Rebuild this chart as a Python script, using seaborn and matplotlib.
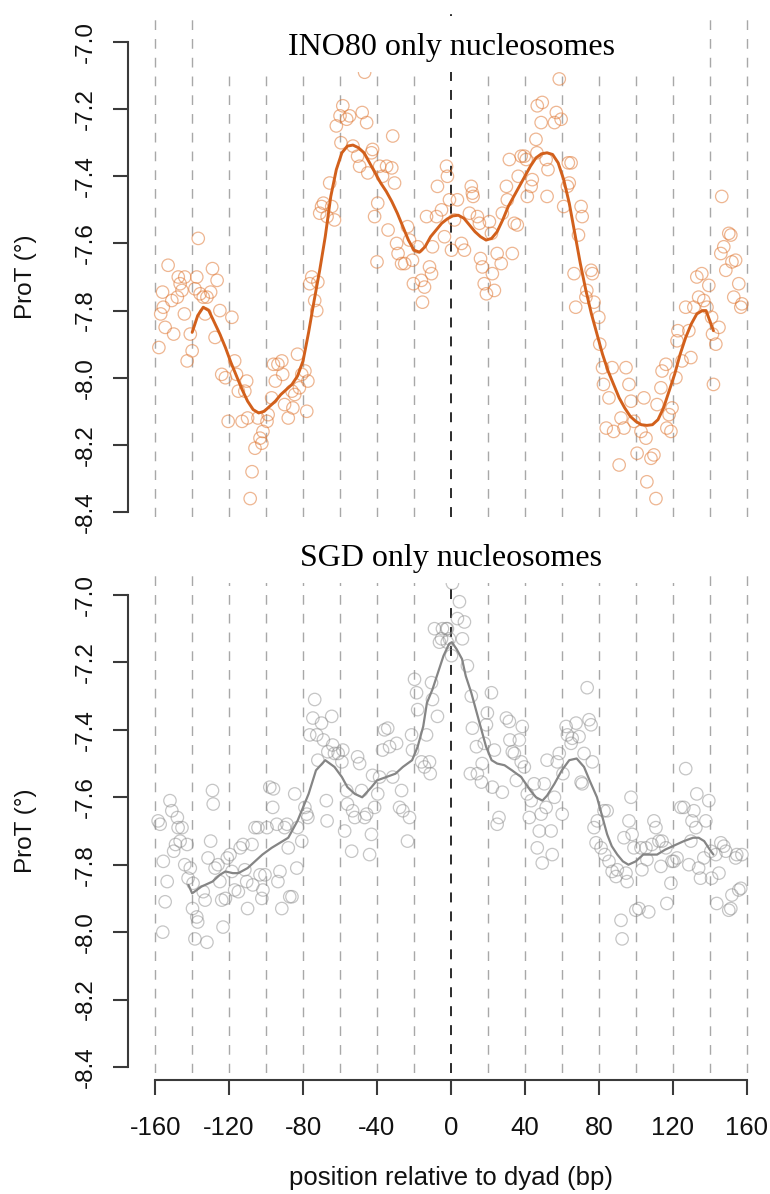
import matplotlib
matplotlib.use("Agg")
import matplotlib.pyplot as plt
from matplotlib.patches import Rectangle
import seaborn as sns
import pandas as pd

# ---------------- data ----------------
ino80_pos = [
    -158, -156, -155.6, -157, -154.6, -153, -150, -151, -148, -147.5, -146.5, -145.5, -144, -144.2,
    -142.7, -141, -140, -138.5, -137.5, -136.7, -135.7, -134, -132, -133, -130, -129, -127.6, -126.5,
    -125, -124, -122, -120.5, -118.5, -117, -116, -115, -113, -111.5, -110.5, -110, -107.6, -108.6,
    -106, -104.4, -103.3, -101.7, -102.3, -99.5, -98.9, -97, -95, -96, -93.6, -91.5, -91, -90, -88,
    -86, -85.5, -84.5, -83, -82, -80.7, -79, -78, -77.4, -76.4, -75.3, -73.7, -72.6, -72, -71, -70,
    -67, -64.5, -63, -69, -65.6, -62, -60, -58.5, -56.4, -54.8, -53, -59.5, -48, -46.7, -45.6, -49.4,
    -45, -42.4, -43, -38.6, -37, -34.8, -31.5, -30.5, -39.6, -40, -50.5, -41.3, -34, -32, -29.4,
    -28.6, -26.7, -25, -23.5, -22.4, -20.8, -20.3, -18, -16, -15.4, -14.3, -13.2, -11.6, -10.5, -10,
    -7.8, -7.3, -5.1, -3.5, -2.4, -1.9, -0.8, 0.3, 1.9, 3.5, 5.7, 7.3, 10, 11, 11.6, 12, 14.3, 15.4,
    16, 17, 18, 19.2, 20.8, 21.9, 22.4, 23.5, 25, 27.2, 27.8, 30, 30.5, 31.6, 33.2, 34.3, 35.9, 36.4,
    38, 39.7, 40.7, 41.3, 43.4, 44, 46, 46.5, 46.7, 48.8, 49.4, 51.5, 52, 52.5, 56, 57, 58.6, 59.6,
    61, 63, 63.5, 65, 64, 70.4, 71, 69, 66.6, 67.5, 73, 73.5, 75.8, 76.5, 77.4, 80, 80.5, 82, 82.5,
    84, 85.5, 87.2, 88, 91, 92, 93.6, 94.7, 96.3, 97.4, 99, 100.7, 102.8, 104.4, 105.5, 106, 108.2,
    109.8, 110.9, 111.5, 113.6, 114.2, 116.3, 116.8, 118, 119, 119.6, 121.7, 122.3, 122.8, 125, 127,
    128.7, 129.8, 131.4, 133, 134, 135.7, 136.8, 138.5, 139.5, 141, 141.5, 143.3, 145, 142, 146.5,
    146, 147.6, 148.7, 150.3, 151.4, 152, 154, 155.7, 153, 156.8, 157.4,
]
ino80_val = [
    -7.91, -7.745, -7.79, -7.81, -7.85, -7.665, -7.87, -7.77, -7.76, -7.70, -7.72, -7.74, -7.70, -7.81,
    -7.95, -7.87, -7.92, -7.735, -7.70, -7.585, -7.75, -7.76, -7.76, -7.81, -7.745, -7.675, -7.88, -7.71,
    -7.80, -7.99, -8.00, -8.13, -7.82, -7.95, -7.99, -8.04, -8.13, -8.04, -8.01, -8.12, -8.28, -8.36,
    -8.21, -8.12, -8.18, -8.16, -8.195, -8.13, -8.11, -8.06, -8.01, -7.96, -7.96, -7.95, -7.99, -8.08, -8.12,
    -8.04, -8.09, -8.05, -7.93, -8.03, -7.99, -7.98, -8.10, -8.01, -7.72, -7.70, -7.77, -7.80, -7.715, -7.51, -7.49,
    -7.52, -7.49, -7.53, -7.48, -7.42, -7.25, -7.22, -7.19, -7.23, -7.22, -7.31, -7.30, -7.21, -7.09, -7.24, -7.37,
    -7.39, -7.32, -7.33, -7.37, -7.40, -7.37, -7.28, -7.42, -7.48, -7.655, -7.34, -7.52, -7.56, -7.375, -7.60,
    -7.63, -7.66, -7.66, -7.55, -7.59, -7.65, -7.72, -7.61, -7.71, -7.775, -7.73, -7.52, -7.67, -7.69, -7.61,
    -7.52, -7.43, -7.50, -7.58, -7.37, -7.40, -7.47, -7.62, -7.53, -7.47, -7.60, -7.62, -7.51, -7.43, -7.45, -7.46, -7.52, -7.54,
    -7.645, -7.67, -7.72, -7.75, -7.535, -7.57, -7.69, -7.74, -7.63, -7.66, -7.51, -7.43, -7.47, -7.35, -7.63, -7.54, -7.545, -7.40,
    -7.34, -7.34, -7.35, -7.46, -7.43, -7.41, -7.29, -7.33, -7.19, -7.24, -7.18, -7.35, -7.46, -7.38, -7.24, -7.21, -7.11, -7.23,
    -7.49, -7.43, -7.36, -7.36, -7.42, -7.49, -7.52, -7.575, -7.69, -7.79, -7.76, -7.74, -7.68, -7.69, -7.775, -7.82, -7.90, -7.97, -8.02,
    -8.15, -8.06, -7.97, -8.16, -8.26, -8.12, -8.15, -7.97, -8.02, -8.07, -8.13, -8.225, -8.16, -8.06, -8.18, -8.31, -8.24,
    -8.23, -8.36, -8.08, -8.03, -7.98, -7.96, -8.15, -8.11, -8.16, -8.09, -8.00, -7.89, -7.86, -7.95, -7.79,
    -7.86, -7.94, -7.79, -7.70, -7.76, -7.69, -7.77, -7.79, -7.725, -7.82, -7.87, -7.90, -7.85, -8.02, -7.46,
    -7.63, -7.61, -7.68, -7.57, -7.575, -7.655, -7.65, -7.72, -7.76, -7.79, -7.78,
]

ino80_fit_pos = [
    -140, -137, -134, -131, -128, -125, -122, -119, -116, -113, -110, -107, -104, -101, -98, -95, -92,
    -89, -86, -83, -80, -77, -74, -71, -68, -65, -62, -59, -56, -53, -50, -47, -44, -41, -38, -35,
    -32, -29, -26, -23, -20, -17, -14, -11, -8, -5, -2, 1, 4, 7, 10, 13, 16, 19, 22, 25, 28, 31,
    34, 37, 40, 43, 46, 49, 52, 55, 58, 61, 64, 67, 70, 73, 76, 79, 82, 85, 88, 91, 94, 97, 100,
    103, 106, 109, 112, 115, 118, 121, 124, 127, 130, 133, 136, 138, 140, 142,
]
ino80_fit_val = [
    -7.865, -7.815, -7.79, -7.80, -7.835, -7.87, -7.91, -7.955, -7.995, -8.035, -8.07, -8.095, -8.105,
    -8.10, -8.085, -8.07, -8.05, -8.035, -8.02, -7.995, -7.95, -7.865, -7.77, -7.68, -7.58, -7.46,
    -7.38, -7.33, -7.31, -7.307, -7.315, -7.33, -7.36, -7.39, -7.42, -7.445, -7.475, -7.51, -7.55,
    -7.59, -7.62, -7.626, -7.61, -7.58, -7.56, -7.54, -7.527, -7.518, -7.516, -7.525, -7.545, -7.565,
    -7.58, -7.59, -7.585, -7.565, -7.53, -7.49, -7.46, -7.43, -7.40, -7.37, -7.345, -7.333, -7.33,
    -7.335, -7.36, -7.41, -7.48, -7.57, -7.66, -7.74, -7.81, -7.87, -7.93, -7.98, -8.02, -8.06,
    -8.09, -8.115, -8.13, -8.14, -8.142, -8.14, -8.125, -8.09, -8.04, -7.99, -7.93, -7.88, -7.84,
    -7.81, -7.80, -7.80, -7.83, -7.86,
]

sgd_pos = [
    -158.4, -157.3, -155.6, -153.5, -154.6, -155.9, -152, -151, -149, -148, -150, -147.6, -145.5,
    -146.5, -144, -142.7, -142.2, -141, -139.5, -139.8, -137.5, -137, -138.5, -132, -134, -133,
    -131.4, -130, -129, -128.6, -127.6, -126, -125, -124, -123.3, -122, -121, -119.5, -118.5, -117,
    -115, -114, -112.5, -111.5, -110.5, -110, -107.6, -107.2, -106, -104.4, -103.3, -102.3, -101.7,
    -100.6, -99.5, -98, -96, -96.4, -94.2, -93.6, -92.5, -91.5, -90, -88.7, -88, -87.2, -86, -84.5,
    -83, -83.4, -80.7, -79, -77.4, -78, -76.4, -74.7, -73.7, -72.6, -72, -70, -69, -67, -67.4, -66.6,
    -64.5, -64, -63, -61, -59, -58.5, -57.5, -56.4, -56, -53.7, -53.2, -52, -50.5, -49.4, -48.3,
    -46.7, -45.6, -44, -43, -42.4, -41.3, -39.6, -38.6, -37, -35.9, -34.2, -33.2, -31.5, -29.4,
    -27.8, -26.7, -26, -23.5, -22.4, -21.3, -20.8, -19.7, -18.6, -18, -15.9, -14.3, -13.2, -11.6,
    -11.2, -10.5, -10, -8.9, -7.3, -6.2, -5.1, -4.6, -2.4, -2.0, -1.9, -0.8, 0.3, 0.8, 4.6, 3.5,
    7.3, 6.2, 8.9, 11, 11.6, 13.8, 10.5, 14.3, 16.5, 16.9, 18, 19.2, 19.7, 21.9, 22.4, 23.5, 25, 26,
    27.8, 30, 31.6, 31.9, 33.2, 34.3, 35.4, 37, 38, 38.6, 39.7, 41.3, 42.4, 43.4, 45, 46.7, 47.8,
    48.8, 49.4, 50.5, 51.5, 52, 54.2, 54.8, 56, 57.5, 58.6, 60.2, 60.6, 62.3, 63, 65, 65.6, 67.7,
    69.3, 70.4, 71, 72, 73.7, 74.7, 75.8, 76.5, 77.4, 78.5, 79.2, 81.2, 82.8, 84.5, 83.2, 85.5, 87.2,
    89.3, 90, 92, 92.6, 93.6, 94.7, 95.3, 96.3, 97.4, 98, 99, 100, 101.7, 102.8, 103.3, 105.5, 106,
    107, 108.7, 109.8, 110.9, 112.5, 113.6, 114.2, 116.3, 116.8, 119, 119.6, 120.6, 122.3, 124.4,
    126, 127, 128.7, 129.8, 130.4, 131.4, 132.5, 133, 134, 135, 136.8, 137.9, 139.5, 140.6, 141,
    143.3, 143.8, 145, 146, 147.6, 148.7, 150.3, 151.4, 152, 154, 154.6, 155.7, 156.8, 157.4,
]
sgd_val = [
    -7.67, -7.68, -7.79, -7.85, -7.91, -8.00, -7.61, -7.64, -7.74, -7.66, -7.76, -7.69, -7.69,
    -7.73, -7.80, -7.74, -7.84, -7.81, -7.855, -7.93, -7.955, -7.97, -8.02, -8.03, -7.88, -7.905,
    -7.78, -7.73, -7.58, -7.62, -7.81, -7.80, -7.85, -7.905, -7.985, -7.90, -7.78, -7.77, -7.82, -7.875,
    -7.88, -7.75, -7.74, -7.815, -7.85, -7.93, -7.74, -7.86, -7.69, -7.69, -7.83, -7.90, -7.875,
    -7.83, -7.69, -7.57, -7.575, -7.63, -7.68, -7.85, -7.82, -7.93, -7.69, -7.68, -7.75, -7.895, -7.895, -7.59,
    -7.69, -7.81, -7.73, -7.63, -7.66, -7.65, -7.415, -7.365, -7.31, -7.415, -7.49, -7.38, -7.43, -7.67, -7.61, -7.465,
    -7.36, -7.445, -7.47, -7.47, -7.495, -7.46, -7.70, -7.58, -7.62, -7.76, -7.64, -7.66, -7.48, -7.50, -7.58,
    -7.66, -7.65, -7.77, -7.71, -7.535, -7.63, -7.59, -7.54, -7.46, -7.40, -7.395, -7.45, -7.54, -7.44,
    -7.63, -7.58, -7.64, -7.73, -7.66, -7.415, -7.46, -7.25, -7.29, -7.34, -7.495, -7.51, -7.415, -7.495,
    -7.53, -7.26, -7.31, -7.10, -7.36, -7.14, -7.13, -7.10, -7.10, -7.14, -7.10, -7.13, -7.18, -6.965, -7.02, -7.07,
    -7.08, -7.13, -7.21, -7.30, -7.395, -7.45, -7.53, -7.53, -7.555, -7.50, -7.44, -7.385, -7.35, -7.29, -7.57, -7.46, -7.68, -7.66,
    -7.585, -7.365, -7.375, -7.43, -7.465, -7.47, -7.55, -7.43, -7.495, -7.39, -7.51, -7.59, -7.66, -7.61, -7.56, -7.75, -7.70,
    -7.65, -7.795, -7.56, -7.63, -7.49, -7.70, -7.77, -7.60, -7.495, -7.47, -7.65, -7.53, -7.39, -7.415, -7.44, -7.425, -7.38,
    -7.42, -7.555, -7.56, -7.47, -7.275, -7.37, -7.385, -7.495, -7.69, -7.735, -7.67, -7.75, -7.64, -7.64, -7.77, -7.79, -7.82,
    -7.835, -7.815, -7.965, -8.02, -7.72, -7.825, -7.85, -7.67, -7.60, -7.71, -7.75, -7.935, -7.93, -7.75, -7.815, -7.75, -7.785,
    -7.94, -7.74, -7.67, -7.69, -7.73, -7.805, -7.73, -7.75, -7.915, -7.855, -7.79, -7.79, -7.78, -7.63,
    -7.63, -7.515, -7.80, -7.73, -7.67, -7.64, -7.69, -7.59, -7.81, -7.84, -7.78, -7.67, -7.61, -7.76, -7.84,
    -7.77, -7.915, -7.825, -7.735, -7.745, -7.76, -7.935, -7.93, -7.89, -7.78, -7.77, -7.875, -7.87, -7.77,
]

sgd_fit_pos = [
    -142, -140, -135, -129, -125, -122, -118, -115, -110, -106, -102, -97, -94, -88, -83, -80, -77,
    -73, -68, -63, -59, -56, -52, -48, -43, -40, -35, -30, -26, -21, -18, -15, -13, -10, -7, -4, -1,
    0.5, 3, 6, 8, 11, 14, 16.5, 19, 22, 25, 29, 33, 38, 43, 46, 49.5, 52, 56, 60, 64, 68, 72, 75,
    79, 82, 84.5, 87, 90, 93, 96, 100, 104, 108, 111.5, 116, 122, 126, 131, 134, 137, 140, 142,
]
sgd_fit_val = [
    -7.86, -7.885, -7.865, -7.85, -7.83, -7.82, -7.825, -7.825, -7.81, -7.79, -7.77, -7.75, -7.74,
    -7.72, -7.67, -7.63, -7.59, -7.52, -7.49, -7.51, -7.54, -7.57, -7.59, -7.60, -7.57, -7.55, -7.54,
    -7.53, -7.51, -7.49, -7.45, -7.39, -7.32, -7.28, -7.23, -7.18, -7.145, -7.14, -7.16, -7.19, -7.24,
    -7.29, -7.35, -7.40, -7.45, -7.49, -7.50, -7.505, -7.52, -7.54, -7.58, -7.60, -7.61, -7.595, -7.56,
    -7.52, -7.49, -7.485, -7.51, -7.55, -7.60, -7.66, -7.71, -7.745, -7.77, -7.79, -7.80, -7.79, -7.77,
    -7.77, -7.77, -7.755, -7.74, -7.73, -7.72, -7.72, -7.73, -7.755, -7.77,
]

panel_titles = ["INO80 only nucleosomes", "SGD only nucleosomes"]
y_ticks = [-8.4, -8.2, -8.0, -7.8, -7.6, -7.4, -7.2, -7.0]
x_ticks = [-160, -120, -80, -40, 0, 40, 80, 120, 160]
grid_positions = list(range(-160, 161, 20))

# ---------------- style ----------------
sns.set_style("white")
plt.rcParams["font.family"] = ["Liberation Sans", "DejaVu Sans"]

W, H = 770, 1194
fig = plt.figure(figsize=(W / 100, H / 100), dpi=100)


def px_axes(left, top, right, bottom):
    return fig.add_axes([left / W, 1 - bottom / H, (right - left) / W, (bottom - top) / H])


ax_top = px_axes(128, 12, 770, 517)
ax_bot = px_axes(128, 567, 770, 1073)

panels = [
    (ax_top, ino80_pos, ino80_val, ino80_fit_pos, ino80_fit_val,
     (0.878, 0.48, 0.22, 0.55), "#d2601c", 2.1, (-8.4149, -6.9106)),
    (ax_bot, sgd_pos, sgd_val, sgd_fit_pos, sgd_fit_val,
     (0.55, 0.55, 0.55, 0.5), "#858585", 1.6, (-8.4178, -6.917)),
]

spine_col = "#3a3a3a"
for ax, px, pv, fx, fv, pt_col, ln_col, ln_w, ylim in panels:
    for g in grid_positions:
        if g == 0:
            ax.axvline(g, color="#1a1a1a", lw=1.3, ls=(0, (5.5, 5)), zorder=1)
        else:
            ax.axvline(g, color="#a8a8a8", lw=1.0, ls=(0, (7, 6.5)), zorder=1)

    pts = pd.DataFrame({"pos": px, "val": pv})
    sns.scatterplot(data=pts, x="pos", y="val", ax=ax, color="none", edgecolor=pt_col,
                    s=80, linewidth=0.9, marker="o", legend=False, zorder=2)
    fit = pd.DataFrame({"pos": fx, "val": fv})
    sns.lineplot(data=fit, x="pos", y="val", ax=ax, color=ln_col, lw=ln_w,
                 sort=True, estimator=None, zorder=3)

    ax.set_xlim(-174.7, 172.6)
    ax.set_ylim(*ylim)
    ax.set_yticks(y_ticks)
    ax.set_yticklabels([f"{t:.1f}" for t in y_ticks])
    ax.spines["left"].set_bounds(-8.4, -7.0)
    for s in ("top", "right"):
        ax.spines[s].set_visible(False)
    ax.spines["left"].set_color(spine_col)
    ax.spines["left"].set_linewidth(1.5)
    ax.tick_params(axis="y", direction="out", length=10.5, width=1.5, color=spine_col,
                   labelsize=17.5, labelcolor="#111111", pad=12, labelrotation=90, left=True)
    for lab in ax.get_yticklabels():
        lab.set_va("center")
    ax.set_ylabel("ProT (°)", fontsize=17.5, color="#111111")
    ax.set_xlabel("")
    ax.patch.set_alpha(0)

# top panel: no x axis
ax_top.spines["bottom"].set_visible(False)
ax_top.tick_params(axis="x", bottom=False, labelbottom=False)

# bottom panel x axis
ax_bot.set_xticks(x_ticks)
ax_bot.set_xticklabels([str(t) for t in x_ticks])
ax_bot.spines["bottom"].set_position(("outward", 5))
ax_bot.spines["bottom"].set_bounds(-160, 160)
ax_bot.spines["bottom"].set_color(spine_col)
ax_bot.spines["bottom"].set_linewidth(1.5)
ax_bot.tick_params(axis="x", direction="out", length=11, width=1.5, color=spine_col,
                   labelsize=18.5, labelcolor="#111111", pad=15, bottom=True)
ax_bot.set_xlabel("position relative to dyad (bp)", fontsize=18.5, color="#111111")
ax_bot.xaxis.set_label_coords((451 - 128) / 642, (1073 - 1166) / 506)

ax_top.yaxis.set_label_coords((37 - 128) / 642, (-7.7 + 8.4149) / 1.5043)
ax_bot.yaxis.set_label_coords((37 - 128) / 642, (-7.7 + 8.4178) / 1.5008)

# panel titles on white boxes
for (box_top, box_bot, base), title in zip([(16, 72, 55), (529, 583, 566)], panel_titles):
    fig.add_artist(Rectangle((212 / W, 1 - box_bot / H), (690 - 212) / W, (box_bot - box_top) / H,
                             transform=fig.transFigure, facecolor="white", edgecolor="none",
                             zorder=5))
    fig.text(451 / W, 1 - base / H, title, ha="center", va="baseline", fontsize=23,
             family=["Liberation Serif", "DejaVu Serif"], color="black", zorder=6)

fig.savefig("out.png", dpi=100)
